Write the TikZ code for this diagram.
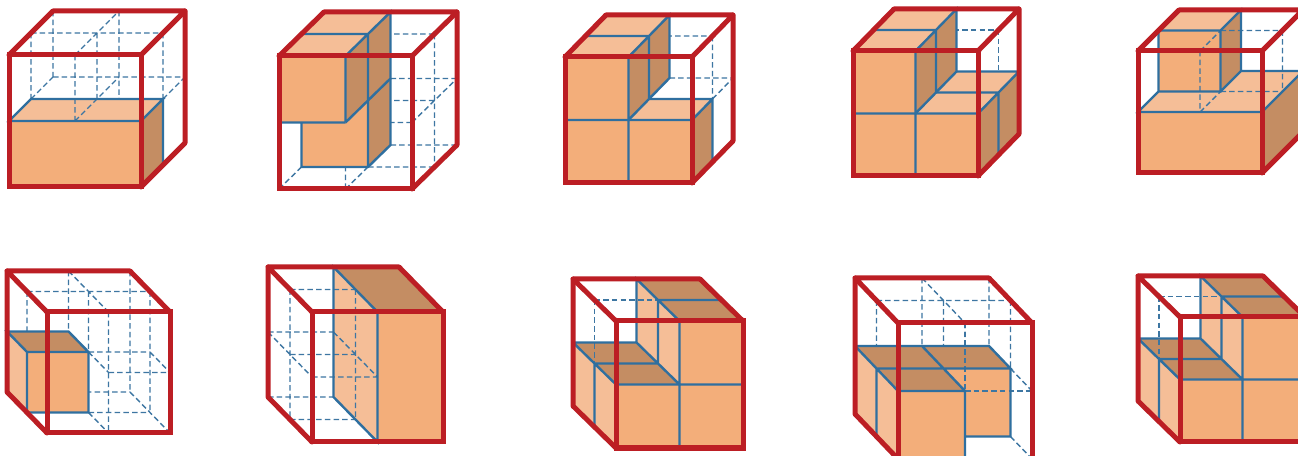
\documentclass[tikz,border=0pt]{standalone}
\definecolor{cred}{HTML}{BC1E24}
\definecolor{cblue}{HTML}{2F6F9F}
\definecolor{cdash}{HTML}{3D76A2}
\definecolor{fmed}{HTML}{F3AE7A}
\definecolor{flight}{HTML}{F5BE97}
\definecolor{fdark}{HTML}{C48D63}
\tikzset{
  cubeat/.style n args={6}{x={({#3/2*1pt},0pt)},y={(0pt,{#4/2*1pt})},z={({#5/2*1pt},{-(#6)/2*1pt})},shift={(#1pt,{(455-#2)*1pt})}},
  redl/.style={draw=cred,line width=5pt},
  redb/.style={draw=cred,line width=5pt,line join=round,line cap=round},
  blul/.style={draw=cblue,line width=2.4pt},
  hid/.style={draw=cdash,line width=1.4pt,dash pattern=on 5.5pt off 3.2pt}
}
\newcommand\RedR{
  \draw[redb] (0,2,0)--(0,2,2)--(2,2,2)--(2,2,0);
  \draw[redb] (2,2,2)--(2,0,2)--(2,0,0);
  \draw[redl] (0,0,0) rectangle (2,2,0);}
\newcommand\RedL{
  \draw[redb] (0,2,0)--(0,2,2)--(2,2,2)--(2,2,0);
  \draw[redb] (0,2,2)--(0,0,2)--(0,0,0);
  \draw[redl] (0,0,0) rectangle (2,2,0);}
% stepped fill of cubes 8 and 10
\newcommand\StepL{
  \fill[fmed] (0,0,0)--(2,0,0)--(2,2,0)--(1,2,0)--(1,1,0)--(0,1,0)--cycle;
  \fill[flight] (1,1,0)--(1,2,0)--(1,2,2)--(1,1,2)--cycle;
  \fill[fdark] (1,2,0)--(2,2,0)--(2,2,2)--(1,2,2)--cycle;
  \fill[flight] (0,0,0)--(0,1,0)--(0,1,2)--(0,0,2)--cycle;
  \fill[fdark] (0,1,0)--(1,1,0)--(1,1,2)--(0,1,2)--cycle;
  \draw[hid] (0,2,1)--(1,2,1) (0,2,1)--(0,1,1);
  \draw[blul] (1,0,0)--(1,2,0)--(1,2,2)--(1,1,2) (0,1,0)--(2,1,0) (1,2,1)--(2,2,1) (1,2,1)--(1,1,1)
    (1,1,2)--(1,1,0) (0,1,1)--(1,1,1) (0,1,2)--(1,1,2) (0,1,0)--(0,1,2) (0,1,1)--(0,0,1);
  \RedL}
% shared upper block of cubes 2, 3, 4
\newcommand\UpperR{
  \fill[fmed] (0,1,0)--(1,1,0)--(1,2,0)--(0,2,0)--cycle;
  \fill[flight] (0,2,0)--(1,2,0)--(1,2,2)--(0,2,2)--cycle;
  \fill[fdark] (1,1,0)--(1,2,0)--(1,2,2)--(1,1,2)--cycle;}
\newcommand\UpperRlines{
  \draw[blul] (1,1,0)--(1,2,0)--(1,2,2)--(1,1,2)--(1,1,0) (0,2,1)--(1,2,1) (1,2,1)--(1,1,1);}
\begin{document}
\begin{tikzpicture}
\useasboundingbox (0pt,0pt) rectangle (1298pt,455pt);
\fill[white] (0pt,0pt) rectangle (1298pt,455pt);
% cube 1
\begin{scope}[cubeat={9}{187}{132}{132}{44}{-44}]
  \fill[fmed] (0,0,0)--(2,0,0)--(2,1,0)--(0,1,0)--cycle;
  \fill[flight] (0,1,0)--(2,1,0)--(2,1,1)--(0,1,1)--cycle;
  \fill[fdark] (2,0,0)--(2,1,0)--(2,1,1)--(2,0,1)--cycle;
  \draw[hid] (0,2,1)--(2,2,1) (0,2,1)--(0,1,1) (0,2,2)--(0,1,2) (1,2,0)--(1,1,0) (1,2,1)--(1,1,1)
    (1,2,2)--(1,0.667,2) (2,2,1)--(2,1,1) (0,1,2)--(2,1,2) (1,2,0)--(1,2,2) (0,1,1)--(0,1,2) (1,1,0)--(1,1,2) (2,1,1)--(2,1,2);
  \draw[blul] (0,1,0)--(2,1,0)--(2,1,1)--(0,1,1)--cycle (2,1,1)--(2,0,1);
  \RedR
\end{scope}
% cube 2
\begin{scope}[cubeat={279}{189}{133}{133}{45}{-44}]
  \draw[hid] (1,2,1)--(2,2,1) (2,2,1)--(2,0,1) (1,1,2)--(2,1,2) (1,1,1)--(2,1,1) (1,1,0)--(2,1,0)
    (1,1,0)--(1,0,0) (1,0,2)--(2,0,2) (1,0,1)--(2,0,1) (1,0,0)--(1,0,1) (0,0,0)--(0,0,1) (2,1,0)--(2,1,2);
  \fill[fmed] (0,0,1)--(1,0,1)--(1,1,1)--(0,1,1)--cycle;
  \fill[fdark] (1,0,1)--(1,1,1)--(1,1,2)--(1,0,2)--cycle;
  \UpperR
  \UpperRlines
  \draw[blul] (0,1,0)--(1,1,0) (0,0.67,1)--(0,0,1)--(1,0,1)--(1,0,2)--(1,1,2) (1,1,1)--(1,0,1);
  \RedR
\end{scope}
% cube 3
\begin{scope}[cubeat={565}{183}{127}{126}{41}{-42}]
  \draw[hid] (1,2,1)--(2,2,1) (2,2,1)--(2,1,1) (1,1,2)--(2,1,2) (2,1,1)--(2,1,2) (2,0,1)--(2,0,2);
  \fill[fmed] (0,0,0)--(2,0,0)--(2,1,0)--(0,1,0)--cycle;
  \fill[flight] (1,1,0)--(2,1,0)--(2,1,1)--(1,1,1)--cycle;
  \fill[fdark] (2,0,0)--(2,1,0)--(2,1,1)--(2,0,1)--cycle;
  \UpperR
  \UpperRlines
  \draw[blul] (0,1,0)--(2,1,0) (1,0,0)--(1,1,0) (1,1,1)--(2,1,1)--(2,0,1) (2,1,0)--(2,1,1);
  \RedR
\end{scope}
% cube 4
\begin{scope}[cubeat={853}{176}{125}{125}{41}{-42}]
  \draw[hid] (1,2,1)--(2,2,1) (2,2,1)--(2,1,1);
  \fill[fmed] (0,0,0)--(2,0,0)--(2,1,0)--(0,1,0)--cycle;
  \fill[flight] (1,1,0)--(2,1,0)--(2,1,2)--(1,1,2)--cycle;
  \fill[fdark] (2,0,0)--(2,1,0)--(2,1,2)--(2,0,2)--cycle;
  \UpperR
  \UpperRlines
  \draw[blul] (0,1,0)--(2,1,0) (1,0,0)--(1,1,0) (1,1,1)--(2,1,1)--(2,0,1) (1,1,2)--(2,1,2) (2,1,0)--(2,1,2);
  \RedR
\end{scope}
% cube 5
\begin{scope}[cubeat={1138}{173}{124}{122}{41}{-41}]
  \fill[fmed] (0,0,0)--(2,0,0)--(2,1,0)--(0,1,0)--cycle;
  \fill[flight] (0,1,0)--(2,1,0)--(2,1,2)--(0,1,2)--cycle;
  \fill[fdark] (2,0,0)--(2,1,0)--(2,1,2)--(2,0,2)--cycle;
  \fill[fmed] (0,1,1)--(1,1,1)--(1,2,1)--(0,2,1)--cycle;
  \fill[flight] (0,2,1)--(1,2,1)--(1,2,2)--(0,2,2)--cycle;
  \fill[fdark] (1,1,1)--(1,2,1)--(1,2,2)--(1,1,2)--cycle;
  \draw[hid] (1,2,1)--(2,2,1) (2,2,1)--(2,1,1) (1,1,1)--(2,1,1) (1,2,0)--(1,1,0) (1,1,0)--(1,1,1) (1,2,0)--(1,2,1);
  \draw[blul] (0,2,1)--(1,2,1)--(1,1,1)--(0,1,1)--cycle (1,2,1)--(1,2,2)--(1,1,2)--(1,1,1)
    (0,1,1)--(0,1,0)--(2,1,0)--(2,1,2)--(1,1,2);
  \RedR
\end{scope}
% cube 6
\begin{scope}[cubeat={47}{433}{123}{121}{-40}{-41}]
  \draw[hid] (0,2,1)--(2,2,1) (0,2,1)--(0,1,1) (1,2,2)--(1,1,2) (1,2,1)--(1,1,1) (1,2,0)--(1,0,0)
    (2,2,2)--(2,0,2) (2,2,1)--(2,0,1) (1,1,1)--(2,1,1) (1,1,0)--(2,1,0) (1,0,2)--(2,0,2) (1,0,1)--(2,0,1)
    (1,2,2)--(1,2,0) (1,1,1)--(1,1,0) (2,1,1)--(2,1,0) (1,0,1)--(1,0,0) (2,0,2)--(2,0,0);
  \fill[fmed] (0,0,1)--(1,0,1)--(1,1,1)--(0,1,1)--cycle;
  \fill[fdark] (0,1,1)--(1,1,1)--(1,1,2)--(0,1,2)--cycle;
  \fill[flight] (0,0,1)--(0,1,1)--(0,1,2)--(0,0,2)--cycle;
  \draw[blul] (0,0,1)--(1,0,1)--(1,1,1)--(0,1,1)--cycle (0,1,1)--(0,1,2)--(1,1,2)--(1,1,1);
  \RedL
\end{scope}
% cube 7
\begin{scope}[cubeat={312}{442}{131}{130}{-44}{-45}]
  \fill[fmed] (1,0,0)--(2,0,0)--(2,2,0)--(1,2,0)--cycle;
  \fill[fdark] (1,2,0)--(2,2,0)--(2,2,2)--(1,2,2)--cycle;
  \fill[flight] (1,0,0)--(1,2,0)--(1,2,2)--(1,0,2)--cycle;
  \draw[hid] (0,2,1)--(1,2,1) (0,2,1)--(0,0,1) (1,2,1)--(1,0,1) (0,1,2)--(1,1,2) (0,1,1)--(1,1,1)
    (0,1,0)--(1,1,0) (0,0,2)--(1,0,2) (0,0,1)--(1,0,1) (0,1,2)--(0,1,0) (1,1,2)--(1,1,0);
  \draw[blul] (1,2,2)--(1,2,0)--(1,0,0)--(1,0,2)--cycle;
  \RedL
\end{scope}
% cube 8
\begin{scope}[cubeat={616}{448}{127}{127}{-43}{-42}]
  \StepL
\end{scope}
% cube 9
\begin{scope}[cubeat={898}{459}{134}{136}{-43}{-45}]
  \draw[hid] (0,2,1)--(2,2,1) (0,2,1)--(0,1,1) (1,2,2)--(1,1,2) (2,2,2)--(2,1,2) (2,2,1)--(2,1,1)
    (1,2,1)--(1,1,1) (1,2,0)--(1,1,0) (1,2,2)--(1,2,0) (2,1,1)--(2,1,0) (2,0,1)--(2,0,0);
  \fill[fmed] (1,0,1)--(2,0,1)--(2,1,1)--(1,1,1)--cycle;
  \fill[fmed] (0,0,0)--(1,0,0)--(1,1,0)--(0,1,0)--cycle;
  \fill[fdark] (0,1,0)--(1,1,0)--(1,1,2)--(0,1,2)--cycle;
  \fill[fdark] (1,1,1)--(2,1,1)--(2,1,2)--(1,1,2)--cycle;
  \fill[flight] (0,0,0)--(0,1,0)--(0,1,2)--(0,0,2)--cycle;
  \draw[hid] (1,1,0)--(2,1,0) (1,2,0)--(1,1,0);
  \draw[blul] (0,1,2)--(2,1,2)--(2,1,1)--(0,1,1) (1,1,2)--(1,1,0) (0,1,0)--(1,1,0)--(1,0,0)
    (0,1,1)--(0,0,1) (0,1,2)--(0,1,0) (2,1,1)--(2,0,1)--(1.32,0,1);
  \RedL
\end{scope}
% cube 10
\begin{scope}[cubeat={1180}{442}{125}{125}{-42}{-41}]
  \StepL
\end{scope}
\end{tikzpicture}
\end{document}
